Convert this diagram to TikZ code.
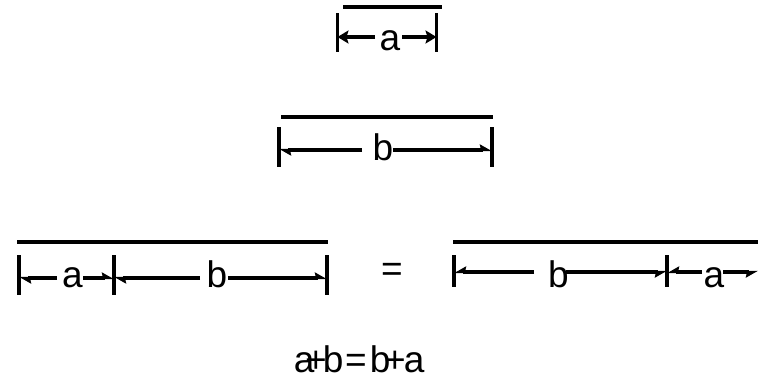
\documentclass[tikz,border=0pt]{standalone}
\usepackage{fontspec}
\setmainfont{Liberation Sans}
\usetikzlibrary{arrows.meta}
\tikzset{
  bar/.style={line width=3.4pt},
  dimline/.style={line width=3.2pt},
  lbl/.style={anchor=base, inner sep=0pt, font=\fontsize{37}{40}\selectfont},
  fullhead/.style={dimline, -{Stealth[length=11pt,width=13pt,inset=2pt]}},
  halfup/.style={dimline, -{Stealth[length=10pt,width=11pt,inset=1pt,harpoon]}},
  halfdown/.style={dimline, -{Stealth[length=10pt,width=11pt,inset=1pt,harpoon,swap]}},
}
\begin{document}
\begin{tikzpicture}[x=1pt,y=-1pt]
\useasboundingbox (0,0) rectangle (758,381);

% --- length a ---
\draw[bar] (343,7) -- (442,7);
\draw[bar] (337.5,13) -- (337.5,52);
\draw[bar] (436.5,13) -- (436.5,52);
\coordinate (p1L) at (337.5,37);
\coordinate (p1R) at (436.5,37);
\node[lbl] (la1) at (390,50) {a};
\coordinate (s1L) at (375,37);
\coordinate (s1R) at (402,37);
\draw[fullhead] (s1L) -- (p1L);
\draw[fullhead] (s1R) -- (p1R);

% --- length b ---
\draw[bar] (281,117) -- (493,117);
\draw[bar] (279,127) -- (279,167);
\draw[bar] (492,127) -- (492,167);
\coordinate (p2L) at (279,150);
\coordinate (p2R) at (492,150);
\node[lbl] (lb2) at (383,160) {b};
\coordinate (s2L) at (362,150);
\coordinate (s2R) at (393,150);
\draw[halfup] (s2L) -- (p2L);
\draw[halfup] (s2R) -- (p2R);

% --- a followed by b ---
\draw[bar] (17,242) -- (328,242);
\draw[bar] (19,255) -- (19,295);
\draw[bar] (114,255) -- (114,295);
\draw[bar] (327,255) -- (327,295);
\coordinate (p3A) at (19,278);
\coordinate (p3B) at (114,278);
\coordinate (p3C) at (327,278);
\node[lbl] (la3) at (72.5,287) {a};
\node[lbl] (lb3) at (217,287) {b};
\coordinate (s3a) at (57,278);
\coordinate (s3b) at (83,278);
\coordinate (s3c) at (200,278);
\coordinate (s3d) at (228,278);
\draw[halfup] (s3a) -- (p3A);
\draw[halfup] (s3b) -- (p3B);
\draw[halfup] (s3c) -- (p3B);
\draw[halfup] (s3d) -- (p3C);

% --- equals sign between the two rows ---
\node[lbl] (eq) at (392,281) {=};

% --- b followed by a ---
\draw[bar] (453,242) -- (758,242);
\draw[bar] (454,255) -- (454,287);
\draw[bar] (667,255) -- (667,287);
\coordinate (p4A) at (454,272);
\coordinate (p4B) at (667,272);
\coordinate (p4C) at (758,272);
\node[lbl] (lb4) at (558.5,287) {b};
\node[lbl] (la4) at (714,287) {a};
\coordinate (s4a) at (534,272);
\coordinate (s4b) at (566,272);
\coordinate (s4c) at (702,272);
\coordinate (s4d) at (723,272);
\draw[halfdown] (s4a) -- (p4A);
\draw[halfdown] (s4b) -- (p4B);
\draw[halfdown] (s4c) -- (p4B);
\draw[halfdown] (s4d) -- (p4C);

% --- the law written out ---
\node[lbl, anchor=base west] (law) at (293.7,372)
  {a\kern-9.3pt+\kern-4pt b\kern1.8pt=\kern3pt b\kern-6.2pt+\kern-1.9pt a};
\end{tikzpicture}
\end{document}
